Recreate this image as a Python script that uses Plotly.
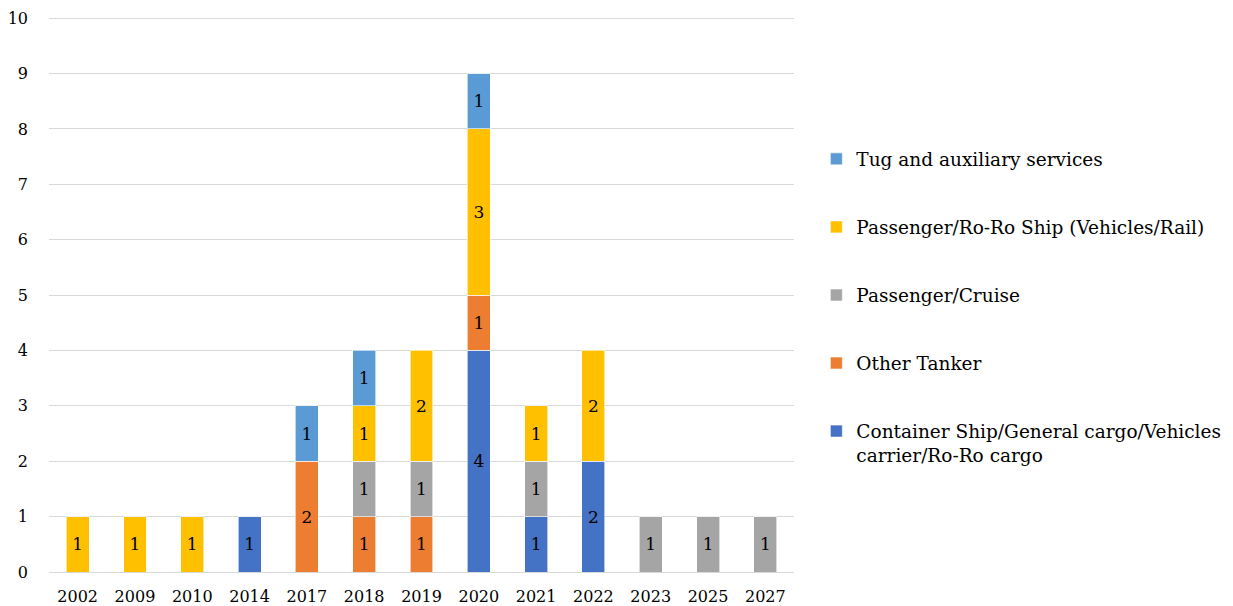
import plotly.graph_objects as go

# Delivery years (categories on the x axis)
years = ["2002", "2009", "2010", "2014", "2017", "2018", "2019",
         "2020", "2021", "2022", "2023", "2025", "2027"]

# Number of vessels per ship type and year
container = [0, 0, 0, 1, 0, 0, 0, 4, 1, 2, 0, 0, 0]
other_tanker = [0, 0, 0, 0, 2, 1, 1, 1, 0, 0, 0, 0, 0]
cruise = [0, 0, 0, 0, 0, 1, 1, 0, 1, 0, 1, 1, 1]
ro_ro_passenger = [1, 1, 1, 0, 0, 1, 2, 3, 1, 2, 0, 0, 0]
tug = [0, 0, 0, 0, 1, 1, 0, 1, 0, 0, 0, 0, 0]

series = [
    ("Container Ship/General cargo/Vehicles<br>carrier/Ro-Ro cargo", container, "#4472C4"),
    ("Other Tanker", other_tanker, "#ED7D31"),
    ("Passenger/Cruise", cruise, "#A5A5A5"),
    ("Passenger/Ro-Ro Ship (Vehicles/Rail)", ro_ro_passenger, "#FFC000"),
    ("Tug and auxiliary services", tug, "#5B9BD5"),
]

FONT = "DejaVu Serif"

fig = go.Figure()
n = len(series)
for i, (name, vals, color) in enumerate(series):
    yv = [v if v else None for v in vals]
    fig.add_trace(go.Bar(
        x=years, y=yv, name=name,
        marker=dict(color=color, line=dict(color="white", width=0.6)),
        text=[str(v) if v else "" for v in vals],
        textposition="inside", insidetextanchor="middle", textangle=0,
        textfont=dict(family=FONT, size=17, color="black"),
        constraintext="none",
        legendgroup=name,
        legendrank=n - i,
        hoverinfo="skip",
    ))

fig.update_layout(
    barmode="stack",
    bargap=0.6,
    width=1233, height=606,
    margin=dict(l=49, r=439, t=16, b=34, autoexpand=False),
    paper_bgcolor="white", plot_bgcolor="white",
    font=dict(family=FONT, size=16, color="black"),
    xaxis=dict(type="category", showgrid=False, showline=False, ticks="",
               tickfont=dict(family=FONT, size=16), ticklabelstandoff=13),
    yaxis=dict(range=[0, 10.04], tickvals=list(range(11)), showgrid=True,
               gridcolor="#D9D9D9", gridwidth=1.3,
               zeroline=True, zerolinecolor="#D9D9D9", zerolinewidth=1.3,
               showline=False, ticks="",
               tickfont=dict(family=FONT, size=16), ticklabelstandoff=20),
    legend=dict(
        x=1.03, y=0.476, xanchor="left", yanchor="middle",
        traceorder="grouped", tracegroupgap=41, valign="top",
        font=dict(family=FONT, size=18.5), itemwidth=30,
        bgcolor="rgba(0,0,0,0)",
    ),
    showlegend=True,
)

fig.write_html("out.html")
